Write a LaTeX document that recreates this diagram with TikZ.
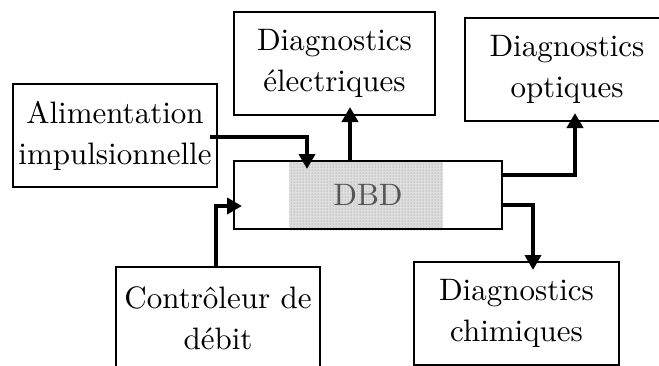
\documentclass[tikz,border=0pt]{standalone}
\usepackage{fontspec}
\setmainfont{lmroman10-regular.otf}
\usepackage{tikz}
\usetikzlibrary{arrows.meta,positioning,backgrounds,patterns}
\definecolor{dbdtext}{RGB}{85,85,85}
\definecolor{dbdfill}{RGB}{222,222,222}

\begin{document}
\begin{tikzpicture}[x=1pt,y=-1pt,
  box/.style={draw,line width=2pt,minimum width=204pt,minimum height=103pt,
              align=center,inner sep=0pt,font=\fontsize{31}{41}\selectfont},
  arr/.style={-{Triangle[length=15pt,width=16pt]},line width=4pt,shorten >=-9pt}
]
  \useasboundingbox (0,0) rectangle (659,365);
  \clip (0,0) rectangle (659,365);
  \node[box] (alim) at (115,135.5) {Alimentation\\impulsionnelle};
  \node[box,minimum width=201pt] (elec) at (334.5,63.5) {Diagnostics\\électriques};
  \node[box] (opt) at (567,69.5) {Diagnostics\\optiques};
  \node[box,minimum width=268pt,minimum height=68pt,text=dbdtext] (dbd)
        at (368,195) {DBD};
  \node[box] (contr) at (218,318.5) {Contrôleur de\\débit};
  \node[box,minimum width=205pt] (chim) at (516.5,313.5) {Diagnostics\\chimiques};
  \begin{scope}[on background layer]
    \fill[dbdfill] ([xshift=56pt]dbd.south west) rectangle ([xshift=-60pt]dbd.north east);
    \fill[pattern=dots,pattern color=gray] ([xshift=56pt]dbd.south west) rectangle ([xshift=-60pt]dbd.north east);
  \end{scope}
  \coordinate (elecout) at ([xshift=117pt]dbd.north west);
  \coordinate (optout) at ([yshift=-15pt]dbd.north east);
  \coordinate (chimout) at ([yshift=-45pt]dbd.north east);
  \draw[arr] ([xshift=-8pt,yshift=-1.5pt]alim.east) -| ([xshift=74pt]dbd.north west);
  \draw[arr] (elecout) -- (elecout |- elec.south);
  \draw[arr] (optout) -| ([xshift=111pt]opt.south west);
  \draw[arr] (chimout) -| ([xshift=120pt]chim.north west);
  \draw[arr] ([xshift=-2pt]contr.north) |- ([yshift=-11pt]dbd.west);
\end{tikzpicture}
\end{document}
